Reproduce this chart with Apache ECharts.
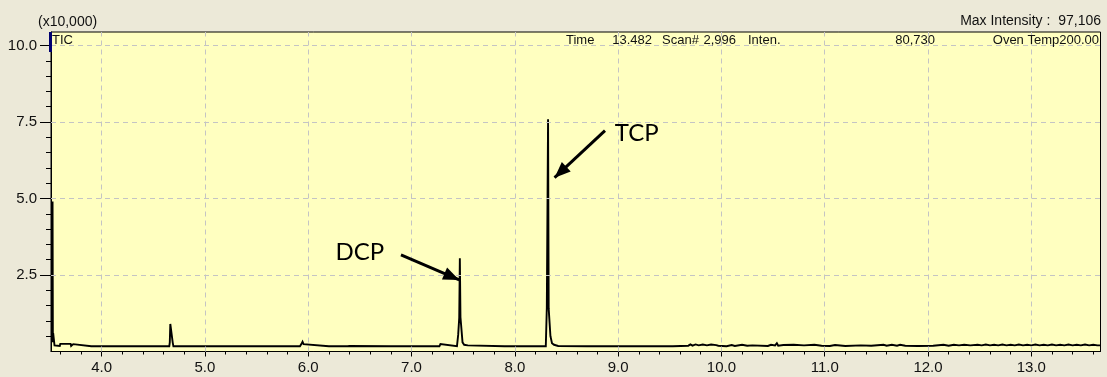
<!DOCTYPE html>
<html>
<head>
<meta charset="utf-8">
<script src="https://cdn.jsdelivr.net/npm/echarts@6/dist/echarts.min.js"></script>
<style>
  html, body { margin: 0; padding: 0; background: #ECE9D8; }
  #chart { width: 1107px; height: 377px; }
</style>
</head>
<body>
<div id="chart"></div>
<script>
// ---- data (retention time in min, intensity in units of 10,000) ----
const times = [
  3.525, 3.528, 3.531, 3.538, 3.544, 3.560, 3.595, 3.600, 3.700, 3.705,
  3.720, 3.725, 3.730, 3.900, 4.200, 4.500, 4.655, 4.660, 4.665, 4.680,
  4.688, 4.695, 5.200, 5.600, 5.920, 5.935, 5.945, 5.955, 5.970, 6.200,
  6.380, 6.390, 6.400, 6.800, 7.100, 7.270, 7.280, 7.290, 7.440, 7.452,
  7.462, 7.468, 7.474, 7.486, 7.494, 7.510, 7.545, 7.560, 7.900, 8.200,
  8.300, 8.310, 8.318, 8.322, 8.328, 8.335, 8.345, 8.360, 8.380, 8.420,
  8.700, 9.000, 9.330, 9.335, 9.340, 9.490, 9.495, 9.500, 9.530, 9.535,
  9.540, 9.680, 9.700, 9.720, 9.750, 9.780, 9.820, 9.860, 9.900, 9.950,
  9.970, 10.050, 10.100, 10.130, 10.200, 10.250, 10.300, 10.450, 10.480, 10.520,
  10.537, 10.550, 10.600, 10.700, 10.800, 10.900, 10.970, 11.050, 11.100, 11.200,
  11.350, 11.450, 11.570, 11.600, 11.650, 11.700, 11.730, 11.780, 11.900, 12.050,
  12.150, 12.200, 12.250, 12.300, 12.350, 12.410, 12.480, 12.520, 12.560, 12.600,
  12.640, 12.680, 12.720, 12.760, 12.800, 12.840, 12.880, 12.920, 12.960, 13.000,
  13.040, 13.080, 13.120, 13.160, 13.200, 13.240, 13.280, 13.320, 13.360, 13.400,
  13.440, 13.480, 13.520, 13.560, 13.600, 13.640, 13.655, 13.665
];
const intensities = [
  4.90, 0.30, 0.60, 0.58, 0.20, 0.18, 0.18, 0.25, 0.25, 0.18,
  0.18, 0.24, 0.18, 0.17, 0.17, 0.17, 0.17, 0.30, 0.90, 0.88,
  0.30, 0.17, 0.17, 0.17, 0.17, 0.25, 0.32, 0.24, 0.18, 0.17,
  0.17, 0.23, 0.18, 0.17, 0.17, 0.17, 0.24, 0.18, 0.17, 0.55,
  1.10, 3.05, 1.12, 1.10, 0.30, 0.22, 0.20, 0.17, 0.17, 0.17,
  0.17, 1.44, 1.44, 7.59, 1.40, 1.35, 0.50, 0.27, 0.22, 0.18,
  0.17, 0.17, 0.17, 0.23, 0.17, 0.17, 0.23, 0.17, 0.17, 0.23,
  0.17, 0.19, 0.23, 0.19, 0.23, 0.20, 0.23, 0.20, 0.23, 0.21,
  0.19, 0.17, 0.21, 0.18, 0.22, 0.19, 0.20, 0.18, 0.22, 0.20,
  0.27, 0.19, 0.21, 0.22, 0.20, 0.22, 0.19, 0.18, 0.21, 0.18,
  0.20, 0.19, 0.22, 0.19, 0.22, 0.19, 0.22, 0.19, 0.18, 0.19,
  0.22, 0.19, 0.22, 0.20, 0.22, 0.20, 0.22, 0.20, 0.23, 0.20,
  0.22, 0.20, 0.23, 0.20, 0.22, 0.20, 0.23, 0.20, 0.22, 0.20,
  0.23, 0.20, 0.22, 0.20, 0.23, 0.20, 0.22, 0.20, 0.23, 0.20,
  0.22, 0.20, 0.23, 0.20, 0.22, 0.20, 0.24, 0.20
];

// axis ticks and labels
const xMin = 3.51, xMax = 13.67;
const yMin = 0, yMax = 10.44;
const xMajorTicks = [4, 5, 6, 7, 8, 9, 10, 11, 12, 13];
const xMinorTicks = [3.6, 3.8, 4.2, 4.4, 4.6, 4.8, 5.2, 5.4, 5.6, 5.8, 6.2, 6.4, 6.6, 6.8,
  7.2, 7.4, 7.6, 7.8, 8.2, 8.4, 8.6, 8.8, 9.2, 9.4, 9.6, 9.8, 10.2, 10.4, 10.6, 10.8,
  11.2, 11.4, 11.6, 11.8, 12.2, 12.4, 12.6, 12.8, 13.2, 13.4, 13.6];
const yMajorTicks = [2.5, 5.0, 7.5, 10.0];
const yMinorTicks = [0.5, 1.0, 1.5, 2.0, 3.0, 3.5, 4.0, 4.5, 5.5, 6.0, 6.5, 7.0,
  8.0, 8.5, 9.0, 9.5];

// annotations (data coordinates)
const annotationLabels = [
  { name: 'DCP', coord: [6.50, 3.25] },
  { name: 'TCP', coord: [9.18, 7.12] }
];
const annotationArrows = [
  { from: [6.898, 3.154], to: [7.462, 2.34] },
  { from: [8.873, 7.216], to: [8.385, 5.68] }
];

const headerLeft = '(x10,000)';
const headerRight = 'Max Intensity :  97,106';
const infoTexts = [
  { text: 'TIC', x: 52, align: 'left' },
  { text: 'Time', x: 566, align: 'left' },
  { text: '13.482', x: 652, align: 'right' },
  { text: 'Scan#', x: 662, align: 'left' },
  { text: '2,996', x: 736, align: 'right' },
  { text: 'Inten.', x: 748, align: 'left' },
  { text: '80,730', x: 935, align: 'right' },
  { text: 'Oven Temp200.00', x: 1099, align: 'right' }
];

const traceData = times.map((t, i) => [t, intensities[i]]);

const chart = echarts.init(document.getElementById('chart'), null, { renderer: 'canvas' });
const FONT = '"Liberation Sans", Arial, sans-serif';
const grid = { left: 51, right: 6.5, top: 32, bottom: 25.5 };

const option = {
  animation: false,
  backgroundColor: '#ECE9D8',
  grid: Object.assign({ show: true, backgroundColor: '#FFFFC0', borderColor: '#000', borderWidth: 1 }, grid),
  xAxis: [
    {
      type: 'value', min: xMin, max: xMax, position: 'bottom',
      axisLine: { show: true, onZero: false, lineStyle: { color: '#000', width: 1 } },
      axisTick: { show: true, customValues: xMinorTicks, length: 3, lineStyle: { color: '#000' } },
      axisLabel: { show: false },
      splitLine: { show: false }
    },
    {
      type: 'value', min: xMin, max: xMax, position: 'bottom',
      axisLine: { show: false, onZero: false },
      axisTick: { show: true, customValues: xMajorTicks, length: 5, lineStyle: { color: '#000' } },
      axisLabel: {
        show: true, customValues: xMajorTicks, margin: 9,
        formatter: v => v.toFixed(1), color: '#111', fontSize: 15, fontFamily: FONT
      },
      splitLine: { show: false }
    }
  ],
  yAxis: [
    {
      type: 'value', min: yMin, max: yMax, position: 'left',
      axisLine: { show: true, onZero: false, lineStyle: { color: '#000', width: 1 } },
      axisTick: { show: true, customValues: yMinorTicks, length: 5, lineStyle: { color: '#000' } },
      axisLabel: { show: false },
      splitLine: { show: false }
    },
    {
      type: 'value', min: yMin, max: yMax, position: 'left',
      axisLine: { show: false, onZero: false },
      axisTick: { show: true, customValues: yMajorTicks, length: 11, lineStyle: { color: '#000' } },
      axisLabel: {
        show: true, customValues: yMajorTicks, margin: 14,
        formatter: v => v.toFixed(1), color: '#111', fontSize: 15, fontFamily: FONT
      },
      splitLine: { show: false }
    }
  ],
  series: [
    {
      name: 'gridlines', type: 'line', data: [], silent: true, z: 1,
      markLine: {
        silent: true, symbol: ['none', 'none'], animation: false,
        label: { show: false },
        lineStyle: { type: [5, 4], color: '#C4C4C4', width: 1 },
        data: xMajorTicks.map(v => ({ xAxis: v })).concat(yMajorTicks.map(v => ({ yAxis: v })))
      }
    },
    {
      name: 'TIC', type: 'line', data: traceData, showSymbol: false, symbol: 'none',
      z: 3, clip: true,
      lineStyle: { color: '#000', width: 1.9, join: 'miter' }
    },
    {
      name: 'annotations', type: 'line', data: [], silent: true, z: 4,
      markLine: {
        silent: true, animation: false,
        label: { show: false },
        lineStyle: { type: 'solid', color: '#000', width: 3 },
        data: annotationArrows.map(a => [
          { coord: a.from, symbol: 'none' },
          { coord: a.to, symbol: 'triangle', symbolSize: [13, 16], symbolOffset: [0, 8] }
        ])
      },
      markPoint: {
        silent: true, animation: false,
        symbol: 'circle', symbolSize: 1,
        itemStyle: { color: 'rgba(0,0,0,0)' },
        label: {
          show: true, position: 'inside', formatter: '{b}',
          color: '#000', fontSize: 24, fontFamily: 'Lato, "Open Sans", sans-serif'
        },
        data: annotationLabels.map(a => ({ name: a.name, coord: a.coord }))
      }
    }
  ],
  graphic: [
    { type: 'text', x: 38, y: 22, silent: true,
      style: { text: headerLeft, font: '14px ' + FONT, fill: '#111', align: 'left', verticalAlign: 'middle' } },
    { type: 'text', x: 1101, y: 21, silent: true,
      style: { text: headerRight, font: '14px ' + FONT, fill: '#111', align: 'right', verticalAlign: 'middle' } },
    { type: 'rect', silent: true, shape: { x: 49, y: 32, width: 3, height: 20 }, style: { fill: '#000070' }, z: 10 }
  ].concat(infoTexts.map(t => ({
    type: 'text', x: t.x, y: 40, silent: true, z: 10,
    style: { text: t.text, font: '13px ' + FONT, fill: '#111', align: t.align, verticalAlign: 'middle' }
  })))
};

chart.setOption(option);
</script>
</body>
</html>
